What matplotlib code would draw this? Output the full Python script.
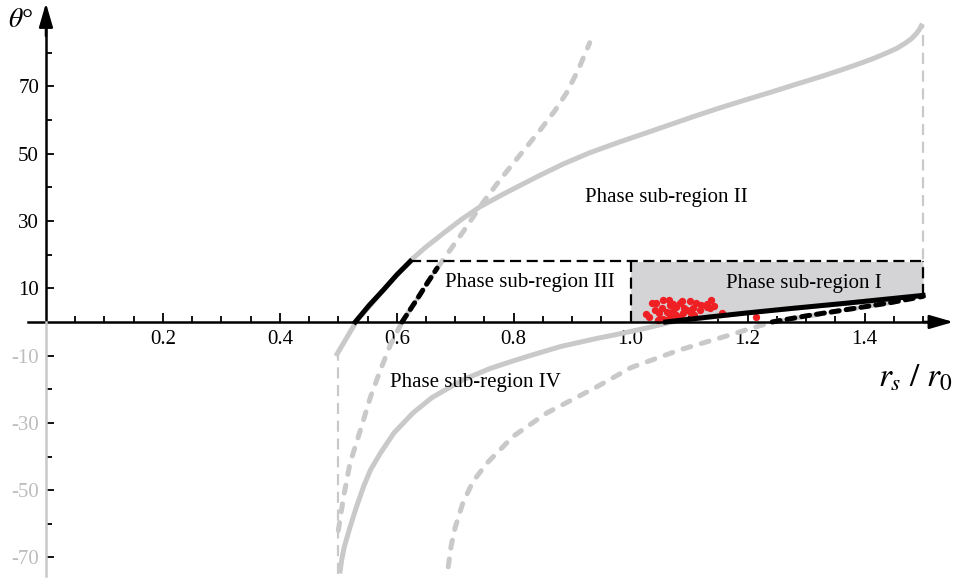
import numpy as np
import matplotlib.pyplot as plt
from matplotlib.ticker import FixedLocator, NullFormatter

plt.rcParams['font.family'] = ['Liberation Serif', 'DejaVu Serif']
plt.rcParams['mathtext.fontset'] = 'stix'

# curves (r = rs/r0, theta in degrees)
upper_gray_r = [0.498, 0.515, 0.532, 0.555, 0.577, 0.60, 0.623, 0.65, 0.68, 0.71, 0.742,
                0.78, 0.81, 0.845, 0.884, 0.93, 0.981, 1.03, 1.07, 1.11, 1.152, 1.2,
                1.24, 1.28, 1.323, 1.36, 1.39, 1.415, 1.437, 1.455, 1.47, 1.481,
                1.489, 1.494, 1.497]
upper_gray_t = [-9.5, -4.5, 0.5, 5.0, 9.5, 14.0, 18.2, 22.3, 26.4, 30.4, 34.2,
                37.8, 40.5, 43.6, 46.9, 50.3, 53.5, 56.4, 58.8, 61.2, 63.6, 66.2,
                68.3, 70.5, 72.8, 74.9, 76.7, 78.3, 79.9, 81.3, 82.9, 84.3,
                85.8, 87.0, 88.0]

lower_gray_r = [0.503, 0.506, 0.51, 0.515, 0.52, 0.53, 0.543, 0.555, 0.572, 0.595,
                0.628, 0.66, 0.713, 0.76, 0.795, 0.828, 0.88, 0.942, 0.985, 1.027,
                1.07, 1.2, 1.37, 1.5]
lower_gray_t = [-74.0, -70.5, -67.0, -64.0, -61.0, -55.5, -49.0, -44.0, -39.0, -33.0,
                -27.0, -22.5, -17.2, -13.8, -11.8, -10.0, -7.3, -4.9, -3.4, -1.8,
                0.0, 2.8, 5.6, 7.9]

dash_a_r = [0.5, 0.509, 0.52, 0.538, 0.555, 0.572, 0.589, 0.609, 0.637, 0.669, 0.679,
            0.713, 0.747, 0.772, 0.797, 0.82, 0.845, 0.87, 0.89, 0.91, 0.93]
dash_a_t = [-62.0, -52.0, -42.0, -32.0, -22.3, -14.3, -6.8, 0.0, 7.4, 16.0, 18.4,
            26.7, 35.4, 41.2, 46.7, 51.6, 57.0, 62.7, 68.0, 74.8, 83.0]

dash_b_r = [0.688, 0.693, 0.70, 0.713, 0.73, 0.754, 0.799, 0.857, 0.942, 1.0, 1.084,
            1.169, 1.242, 1.369, 1.498]
dash_b_t = [-72.8, -66.5, -61.0, -53.8, -47.5, -42.0, -34.0, -27.0, -19.3, -13.6, -8.3,
            -3.9, 0.0, 3.6, 7.4]

black_left_r = [0.529, 0.553, 0.577, 0.60, 0.623]
black_left_t = [0.0, 5.0, 9.5, 14.0, 18.0]
black_left_dash_r = [0.609, 0.623, 0.637, 0.653, 0.669]
black_left_dash_t = [0.0, 3.7, 7.4, 11.8, 16.0]

black_right_r = [1.06, 1.13, 1.2, 1.28, 1.37, 1.5]
black_right_t = [0.0, 1.4, 2.7, 4.1, 5.6, 7.9]
black_right_dash_r = [1.242, 1.3, 1.37, 1.44, 1.5]
black_right_dash_t = [0.0, 1.8, 3.7, 5.6, 7.6]

box_top = 18.0

# measured points
pts_r = [1.026, 1.032, 1.036, 1.044, 1.046, 1.049, 1.053, 1.055, 1.061, 1.063, 1.065,
         1.067, 1.067, 1.072, 1.072, 1.078, 1.084, 1.087, 1.089, 1.092, 1.097, 1.101,
         1.104, 1.106, 1.111, 1.121, 1.130, 1.131, 1.135, 1.138, 1.143, 1.157, 1.215,
         1.041, 1.077, 1.118, 1.056, 1.084, 1.109]
pts_t = [2.4, 1.5, 5.6, 5.6, 0.6, 2.7, 4.2, 0.9, 0.6, 3.0, 6.5,
         5.1, 1.5, 5.3, 3.3, 2.1, 1.5, 6.2, 2.7, 4.2, 3.6, 6.2,
         2.7, 4.2, 5.6, 5.1, 4.5, 5.3, 4.2, 6.5, 4.8, 2.7, 1.5,
         3.6, 4.5, 3.6, 6.5, 5.6, 2.1]

x_major = [0.2, 0.4, 0.6, 0.8, 1.0, 1.2, 1.4]
x_labels = ['0.2', '0.4', '0.6', '0.8', '1.0', '1.2', '1.4']
y_major = [-70, -50, -30, -10, 10, 30, 50, 70]
y_labels = ['-70', '-50', '-30', '-10', '10', '30', '50', '70']
y_minor = [-60, -40, -20, 20, 40, 60, 80]

GRAY = '#c9c9c9'
LABEL_GRAY = '#bdbdbd'

fig = plt.figure(figsize=(9.54, 5.79), dpi=100)
ax = fig.add_axes([0, 0, 1, 1])
ax.set_xlim(-0.0786, 1.553)
ax.set_ylim(-76.4, 95.7)

# shaded sub-region I
fr = np.linspace(1.0, 1.5, 200)
low = np.maximum(np.interp(fr, black_right_r, black_right_t, left=0.0), 0.0)
ax.fill_between(fr, low, box_top, color='#d4d4d6', lw=0, zorder=1)

thin_gray = dict(color=GRAY, lw=1.6, ls=(0, (5, 3)), zorder=2)
ax.plot([0.5, 0.5], [-75, upper_gray_t[0]], **thin_gray)
ax.plot([1.5, 1.5], [black_right_t[-1], upper_gray_t[-1]], **thin_gray)

ax.plot(upper_gray_r, upper_gray_t, color=GRAY, lw=3.6, zorder=3)
ax.plot(lower_gray_r, lower_gray_t, color=GRAY, lw=3.6, zorder=3)
ax.plot(dash_a_r, dash_a_t, color=GRAY, lw=3.6, ls=(0, (1.6, 2.2)),
        dash_capstyle='round', zorder=3)
ax.plot(dash_b_r, dash_b_t, color=GRAY, lw=3.6, ls=(0, (1.6, 2.2)),
        dash_capstyle='round', zorder=3)

ax.scatter(pts_r, pts_t, s=28, color='#ee2024', lw=0, zorder=4)

# dashed box
box = dict(color='k', lw=1.6, ls=(0, (5, 2.5)), zorder=5)
ax.plot([black_left_r[-1], 1.5], [box_top, box_top], **box)
ax.plot([1.0, 1.0], [0, box_top], **box)
ax.plot([1.5, 1.5], [black_right_t[-1], box_top], **box)

ax.plot(black_left_r, black_left_t, color='k', lw=3.6, zorder=6)
ax.plot(black_right_r, black_right_t, color='k', lw=3.6, zorder=6)
ax.plot(black_left_dash_r, black_left_dash_t, color='k', lw=3.6,
        ls=(0, (1.6, 1.4)), dash_capstyle='round', zorder=6)
ax.plot(black_right_dash_r, black_right_dash_t, color='k', lw=3.6,
        ls=(0, (1.6, 1.4)), dash_capstyle='round', zorder=6)

# axes drawn through the origin
for s in ax.spines.values():
    s.set_color('none')
ax.spines['left'].set_position(('data', 0))
ax.spines['bottom'].set_position(('data', 0))
ax.plot([-0.03, 1.53], [0, 0], color='k', lw=1.8, zorder=7)
ax.plot([0, 0], [0, 90], color='k', lw=1.8, zorder=7)
ax.plot([0, 0], [-75.5, 0], color=GRAY, lw=1.8, zorder=7)
ax.annotate('', xy=(1.552, 0), xytext=(1.50, 0),
            arrowprops=dict(arrowstyle='-|>,head_length=1.45,head_width=0.42',
                            color='k', lw=1.8, shrinkA=0, shrinkB=0), zorder=8)
ax.annotate('', xy=(0, 94.8), xytext=(0, 85),
            arrowprops=dict(arrowstyle='-|>,head_length=1.45,head_width=0.42',
                            color='k', lw=1.8, shrinkA=0, shrinkB=0), zorder=8)

ax.xaxis.set_major_locator(FixedLocator(x_major))
ax.set_xticklabels(x_labels)
ax.xaxis.set_minor_locator(FixedLocator(np.arange(1, 31) * 0.05))
ax.xaxis.set_minor_formatter(NullFormatter())
ax.yaxis.set_major_locator(FixedLocator(y_major))
ax.set_yticklabels(y_labels)
ax.yaxis.set_minor_locator(FixedLocator(y_minor))
ax.yaxis.set_minor_formatter(NullFormatter())
ax.tick_params(axis='x', which='major', direction='in', length=6.5, width=1.3,
               pad=6, labelsize=15)
ax.tick_params(axis='x', which='minor', direction='in', length=4.3, width=1.3)
ax.tick_params(axis='y', which='major', direction='in', length=5.5, width=1.3,
               pad=5, labelsize=15)
ax.tick_params(axis='y', which='minor', direction='in', length=4.0, width=1.3)
for t in ax.yaxis.get_major_ticks() + ax.yaxis.get_minor_ticks():
    if t.get_loc() < 0:
        t.tick1line.set_color(LABEL_GRAY)
        t.label1.set_color(LABEL_GRAY)

ax.text(1.061, 37.1, 'Phase sub-region II', fontsize=15, ha='center', va='center')
ax.text(0.828, 11.8, 'Phase sub-region III', fontsize=15, ha='center', va='center')
ax.text(1.297, 11.3, 'Phase sub-region I', fontsize=15, ha='center', va='center')
ax.text(0.734, -18.1, 'Phase sub-region IV', fontsize=15, ha='center', va='center')
ax.text(1.487, -16.6, r'$r_s\ /\ r_{\mathit{0}}$', fontsize=24, ha='center', va='center')
ax.text(-0.043, 89.5, r'$\theta$°', fontsize=20, ha='center', va='center')

fig.savefig('out.png', dpi=100)
